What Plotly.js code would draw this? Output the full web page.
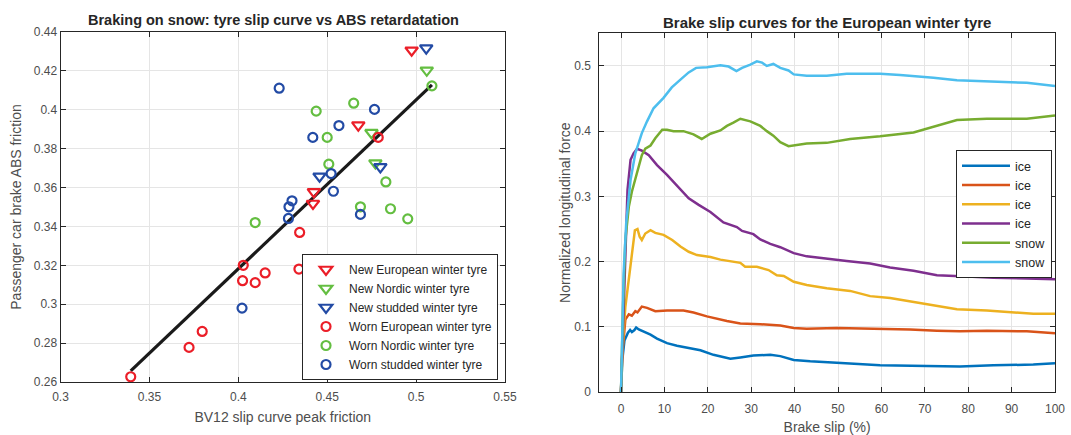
<!DOCTYPE html>
<html>
<head>
<meta charset="utf-8">
<script src="https://cdn.plot.ly/plotly-3.0.1.min.js"></script>
<style>html,body{margin:0;padding:0;background:#fff;}#chart{width:1071px;height:435px;}</style>
</head>
<body>
<div id="chart"></div>
<script>
// ---- Left chart data ----
const newEuroX = [0.4975, 0.4675, 0.4425, 0.4420];
const newEuroY = [0.4306, 0.3921, 0.3578, 0.3518];
const newNordicX = [0.5060, 0.4749, 0.4771];
const newNordicY = [0.4203, 0.3882, 0.3726];
const newStuddedX = [0.5057, 0.4799, 0.4457];
const newStuddedY = [0.4317, 0.3706, 0.3658];
const wornEuroX = [0.4787, 0.4345, 0.4341, 0.4028, 0.4024, 0.4095, 0.4151, 0.3797, 0.3723, 0.3395];
const wornEuroY = [0.3858, 0.3369, 0.3181, 0.3200, 0.3121, 0.3111, 0.3161, 0.2860, 0.2778, 0.2627];
const wornNordicX = [0.5089, 0.4649, 0.4438, 0.4500, 0.4509, 0.4830, 0.4095, 0.4687, 0.4856, 0.4953];
const wornNordicY = [0.4123, 0.4034, 0.3993, 0.3858, 0.3720, 0.3629, 0.3420, 0.3501, 0.3491, 0.3439];
const wornStuddedX = [0.4230, 0.4766, 0.4566, 0.4419, 0.4522, 0.4535, 0.4302, 0.4285, 0.4282, 0.4687, 0.4021];
const wornStuddedY = [0.4111, 0.4002, 0.3919, 0.3858, 0.3672, 0.3581, 0.3532, 0.3501, 0.3441, 0.3462, 0.2980];
const fitX = [0.3395, 0.5089];
const fitY = [0.2657, 0.4128];

// ---- Right chart data ----
const ice1X = [0, 0.3, 0.8, 1.4, 1.6, 2.1, 2.5, 3.1, 3.5, 4.1, 5.2, 6.8, 8.3, 10.6, 12.9, 15.2, 18.3, 21.3, 25.2, 27.5, 30.5, 34.4, 36.7, 39.8, 43.6, 49.7, 55.1, 59.7, 70.5, 78.1, 85.8, 95, 100];
const ice1Y = [0, 0.049, 0.079, 0.090, 0.091, 0.095, 0.092, 0.095, 0.099, 0.096, 0.093, 0.088, 0.082, 0.075, 0.071, 0.068, 0.064, 0.057, 0.051, 0.053, 0.056, 0.057, 0.055, 0.049, 0.047, 0.045, 0.043, 0.041, 0.040, 0.039, 0.041, 0.042, 0.044];
const ice2X = [0, 0.2, 1, 1.8, 2.5, 3.3, 3.8, 4.8, 6, 7.9, 10.6, 14.4, 16.7, 19.8, 24.4, 27.5, 32.1, 36.7, 39.8, 42.8, 49.7, 59.7, 66.6, 72.8, 78.1, 84.3, 93.5, 100];
const ice2Y = [0, 0.050, 0.111, 0.119, 0.117, 0.124, 0.122, 0.131, 0.129, 0.124, 0.125, 0.125, 0.122, 0.116, 0.109, 0.105, 0.104, 0.102, 0.098, 0.097, 0.098, 0.097, 0.096, 0.094, 0.093, 0.094, 0.093, 0.090];
const ice3X = [0, 0.46, 1.0, 1.8, 2.5, 3.2, 3.8, 4.3, 4.8, 5.6, 6.8, 7.9, 9.8, 11.8, 13.7, 15.6, 17.5, 20.6, 22.9, 25.2, 27.5, 28.6, 31.3, 34, 35.9, 37.5, 39.8, 42.8, 47.4, 52.8, 57.4, 62, 67.4, 72.8, 77.4, 84.3, 89.6, 95, 100];
const ice3Y = [0, 0.079, 0.130, 0.171, 0.207, 0.248, 0.250, 0.238, 0.233, 0.243, 0.248, 0.244, 0.241, 0.233, 0.223, 0.215, 0.210, 0.207, 0.203, 0.201, 0.198, 0.192, 0.192, 0.187, 0.179, 0.178, 0.169, 0.164, 0.159, 0.155, 0.147, 0.144, 0.138, 0.132, 0.127, 0.125, 0.123, 0.120, 0.120];
const ice4X = [0, 0.46, 1.0, 1.5, 2.2, 2.9, 3.7, 4.8, 6.4, 8.3, 10.6, 12.9, 15.6, 17.9, 20.6, 23.6, 26.7, 27.9, 30.5, 32.1, 34.4, 36.7, 39.8, 42.8, 47.4, 52, 57.4, 62, 67.4, 72.8, 79.7, 85.8, 93.5, 100];
const ice4Y = [0, 0.105, 0.233, 0.310, 0.356, 0.366, 0.373, 0.370, 0.363, 0.348, 0.333, 0.317, 0.297, 0.287, 0.276, 0.260, 0.253, 0.247, 0.242, 0.234, 0.227, 0.222, 0.213, 0.208, 0.205, 0.201, 0.197, 0.191, 0.186, 0.179, 0.177, 0.175, 0.174, 0.173];
const snow1X = [0, 0.46, 1.0, 1.8, 2.5, 3.3, 4.1, 4.8, 5.6, 6.8, 7.9, 9.5, 10.6, 12.1, 14.4, 16.7, 18.6, 20.6, 22.9, 24.4, 25.9, 27.5, 29.8, 32.1, 33.6, 35.1, 36.7, 38.6, 42.8, 47.4, 52.8, 59.7, 67.4, 72.8, 77.4, 84.3, 93.5, 100];
const snow1Y = [0, 0.130, 0.233, 0.284, 0.307, 0.327, 0.345, 0.363, 0.373, 0.378, 0.389, 0.402, 0.402, 0.400, 0.400, 0.395, 0.388, 0.396, 0.401, 0.408, 0.413, 0.419, 0.415, 0.408, 0.400, 0.393, 0.383, 0.377, 0.381, 0.382, 0.388, 0.392, 0.398, 0.408, 0.417, 0.419, 0.419, 0.424];
const snow2X = [0, 0.23, 0.6, 1.2, 2.2, 3.3, 4.8, 6.0, 7.5, 9.8, 11.7, 13.7, 15.6, 17.3, 19.8, 22.9, 24.8, 26.6, 27.9, 29.8, 31.3, 32.5, 33.6, 35.1, 36.7, 38.6, 39.8, 42.8, 47.4, 52, 59.7, 64.3, 72, 77.4, 85.8, 93.5, 100];
const snow2Y = [0, 0.079, 0.182, 0.259, 0.325, 0.366, 0.397, 0.415, 0.435, 0.451, 0.467, 0.479, 0.490, 0.497, 0.498, 0.501, 0.499, 0.492, 0.497, 0.502, 0.507, 0.505, 0.500, 0.503, 0.497, 0.493, 0.487, 0.485, 0.485, 0.488, 0.488, 0.486, 0.482, 0.478, 0.476, 0.474, 0.469];

const leftXTicks = [0.3, 0.35, 0.4, 0.45, 0.5, 0.55];
const leftYTicks = [0.26, 0.28, 0.3, 0.32, 0.34, 0.36, 0.38, 0.4, 0.42, 0.44];
const rightXTicks = [0, 10, 20, 30, 40, 50, 60, 70, 80, 90, 100];
const rightYTicks = [0, 0.1, 0.2, 0.3, 0.4, 0.5];

const RED = 'rgb(235,30,40)', GREEN = 'rgb(100,190,65)', BLUE = 'rgb(35,75,165)';
const FONT = 'Liberation Sans, Arial, Helvetica, sans-serif';

function sc(x, y, name, sym, color, size) {
  return {x: x, y: y, name: name, type: 'scatter', mode: 'markers', xaxis: 'x', yaxis: 'y', legend: 'legend',
    marker: {symbol: sym, size: size, color: color, line: {color: color, width: 2.2}}};
}
function ln(x, y, name, color) {
  return {x: x, y: y, name: name, type: 'scatter', mode: 'lines', xaxis: 'x2', yaxis: 'y2', legend: 'legend2',
    line: {color: color, width: 2.5}};
}

const traces = [
  {x: fitX, y: fitY, type: 'scatter', mode: 'lines', line: {color: '#1a1a1a', width: 3.2}, showlegend: false, xaxis: 'x', yaxis: 'y'},
  sc(newEuroX, newEuroY, 'New European winter tyre', 'triangle-down-open', RED, 11),
  sc(newNordicX, newNordicY, 'New Nordic winter tyre', 'triangle-down-open', GREEN, 11),
  sc(newStuddedX, newStuddedY, 'New studded winter tyre', 'triangle-down-open', BLUE, 11),
  sc(wornEuroX, wornEuroY, 'Worn European winter tyre', 'circle-open', RED, 9),
  sc(wornNordicX, wornNordicY, 'Worn Nordic winter tyre', 'circle-open', GREEN, 9),
  sc(wornStuddedX, wornStuddedY, 'Worn studded winter tyre', 'circle-open', BLUE, 9),
  ln(ice1X, ice1Y, 'ice', '#0072BD'),
  ln(ice2X, ice2Y, 'ice', '#D95319'),
  ln(ice3X, ice3Y, 'ice', '#EDB120'),
  ln(ice4X, ice4Y, 'ice', '#7E2F8E'),
  ln(snow1X, snow1Y, 'snow', '#77AC30'),
  ln(snow2X, snow2Y, 'snow', '#4DBEEE')
];

const axBase = {
  showline: true, linecolor: '#262626', linewidth: 1, mirror: 'ticks',
  ticks: 'inside', ticklen: 5, tickcolor: '#262626', tickwidth: 1,
  showgrid: true, gridcolor: '#e5e5e5', gridwidth: 1, zeroline: false,
  tickfont: {family: FONT, size: 12, color: '#4d4d4d'}, automargin: false
};
function ax(extra) { return Object.assign({}, axBase, extra); }
const titleFont = {family: FONT, size: 14, color: '#4d4d4d'};

const layout = {
  width: 1071, height: 435,
  margin: {l: 0, r: 0, t: 0, b: 0},
  paper_bgcolor: '#fff', plot_bgcolor: '#fff',
  font: {family: FONT, color: '#262626'},
  xaxis: ax({domain: [60.5/1071, 505/1071], range: [0.3, 0.55], tickvals: leftXTicks, ticktext: leftXTicks.map(String),
    anchor: 'y', ticklabelstandoff: 4, title: {text: 'BV12 slip curve peak friction', font: titleFont, standoff: 8}}),
  yaxis: ax({domain: [1 - 382/435, 1 - 32/435], range: [0.26, 0.44], tickvals: leftYTicks, ticktext: leftYTicks.map(String),
    anchor: 'x', title: {text: 'Passenger car brake ABS friction', font: titleFont, standoff: 8}}),
  xaxis2: ax({domain: [599.3/1071, 1055/1071], range: [-5, 100], tickvals: rightXTicks, ticktext: rightXTicks.map(String),
    anchor: 'y2', ticklabelstandoff: 6, title: {text: 'Brake slip (%)', font: titleFont, standoff: 8}}),
  yaxis2: ax({domain: [1 - 392/435, 1 - 33.3/435], range: [0, 0.55], tickvals: rightYTicks, ticktext: rightYTicks.map(String),
    anchor: 'x2', ticklabelstandoff: 5, title: {text: 'Normalized longitudinal force', font: titleFont, standoff: 0}}),
  legend: {x: 302/1071, y: 1 - 380/435, xanchor: 'left', yanchor: 'bottom', bgcolor: '#fff', bordercolor: '#262626', borderwidth: 1,
    font: {family: FONT, size: 12, color: '#262626'}, tracegroupgap: 0, itemwidth: 36},
  legend2: {x: 956/1071, y: 1 - 150/435, xanchor: 'left', yanchor: 'top', bgcolor: '#fff', bordercolor: '#262626', borderwidth: 1,
    font: {family: FONT, size: 12.5, color: '#262626'}, tracegroupgap: 0, itemwidth: 48},
  annotations: [
    {text: '<b>Braking on snow: tyre slip curve vs ABS retardatation</b>', xref: 'paper', yref: 'paper', x: 273/1071, y: 1 - 20/435,
      xanchor: 'center', yanchor: 'middle', showarrow: false, font: {family: FONT, size: 14.5, color: '#262626'}},
    {text: '<b>Brake slip curves for the European winter tyre</b>', xref: 'paper', yref: 'paper', x: 827/1071, y: 1 - 22/435,
      xanchor: 'center', yanchor: 'middle', showarrow: false, font: {family: FONT, size: 15, color: '#262626'}}
  ]
};

Plotly.newPlot('chart', traces, layout, {displayModeBar: false, staticPlot: true});
</script>
</body>
</html>
